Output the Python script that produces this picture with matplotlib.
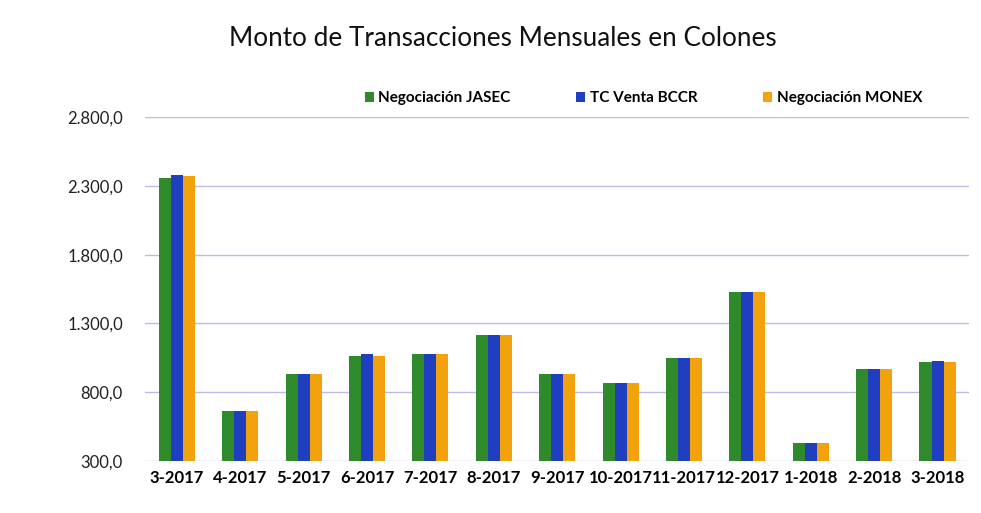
import numpy as np
import matplotlib
matplotlib.use("Agg")
import matplotlib.pyplot as plt
from matplotlib.ticker import FuncFormatter

meses = ["3-2017", "4-2017", "5-2017", "6-2017", "7-2017", "8-2017", "9-2017",
         "10-2017", "11-2017", "12-2017", "1-2018", "2-2018", "3-2018"]
jasec = [2360, 667, 936, 1062, 1075, 1215, 936, 868, 1047, 1530, 430, 970, 1021]
bccr = [2380, 667, 936, 1075, 1075, 1215, 936, 868, 1047, 1530, 430, 970, 1031]
monex = [2373, 667, 936, 1062, 1075, 1215, 936, 868, 1047, 1530, 430, 970, 1021]
series = ["Negociación JASEC", "TC Venta BCCR", "Negociación MONEX"]
colores = ["#2f8a2b", "#1f3fc0", "#f2a20c"]
yticks = [300, 800, 1300, 1800, 2300, 2800]


def fmt(v, pos):
    s = f"{v:,.1f}"
    return s.replace(",", "X").replace(".", ",").replace("X", ".")


def main():
    plt.rcParams['font.family'] = ['Lato', 'DejaVu Sans']
    fig = plt.figure(figsize=(9.81, 5.13), dpi=100)
    ax = fig.add_axes([0.148, 0.101, 0.84, 0.671])

    x = np.arange(len(meses))
    w = 0.19
    for i, (vals, nombre, c) in enumerate(zip([jasec, bccr, monex], series, colores)):
        base = yticks[0]
        ax.bar(x + (i - 1) * w, np.array(vals) - base, width=w, bottom=base,
               color=c, label=nombre, zorder=3)

    ax.set_ylim(300, 2800)
    ax.set_xlim(-0.5, len(meses) - 0.5)
    ax.set_yticks(yticks)
    ax.yaxis.set_major_formatter(FuncFormatter(fmt))
    ax.set_xticks(x)
    ax.set_xticklabels(meses, fontweight='bold', fontsize=12)
    ax.tick_params(axis='y', labelsize=12, length=0, pad=16, labelcolor='#222222')
    ax.tick_params(axis='x', length=0, pad=6)
    ax.grid(axis='y', color='#bcbce8', linewidth=1, zorder=0)
    for s in ax.spines.values():
        s.set_visible(False)

    fig.text(0.513, 0.925, "Monto de Transacciones Mensuales en Colones",
             ha='center', va='center', fontsize=18.8, color='#111111')
    fig.legend(loc='center', bbox_to_anchor=(0.656, 0.808), ncol=3, frameon=False,
               prop={'weight': 'bold', 'size': 11}, handlelength=0.6,
               handleheight=0.6, handletextpad=0.3, columnspacing=4.3)

    fig.savefig("out.png", dpi=100, facecolor='white')


if __name__ == '__main__':
    main()
